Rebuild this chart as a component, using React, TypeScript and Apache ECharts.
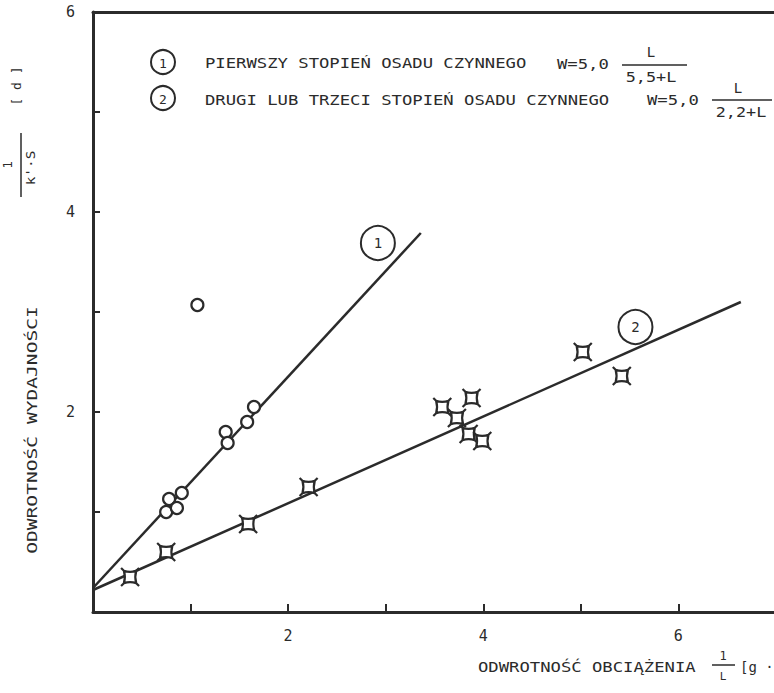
import React, { useEffect, useRef } from "react";
import * as echarts from "echarts";

// Series 1: first stage activated sludge (open circles)
const s1X = [0.75, 0.78, 0.86, 0.91, 1.07, 1.36, 1.38, 1.58, 1.65];
const s1Y = [1.0, 1.13, 1.04, 1.19, 3.07, 1.8, 1.69, 1.9, 2.05];
// Series 2: second or third stage (crossed squares)
const s2X = [0.38, 0.75, 1.59, 2.21, 3.58, 3.73, 3.88, 3.85, 3.99, 5.02, 5.42];
const s2Y = [0.35, 0.6, 0.88, 1.25, 2.05, 1.94, 2.14, 1.78, 1.71, 2.6, 2.36];
// Fitted lines (start, end)
const line1X = [0, 3.36];
const line1Y = [0.24, 3.79];
const line2X = [0, 6.64];
const line2Y = [0.22, 3.1];
// Line tags
const tagX = [2.92, 5.56];
const tagY = [3.69, 2.85];
const tagText = ["1", "2"];
// Axis tick labels shown
const xTickLabels = [2, 4, 6];
const yTickLabels = [2, 4, 6];

const INK = "#2b2b2b";
const FONT = "DejaVu Sans Mono";
const starPath =
  "path://M4.5 4.5 Q11 6.5 17.5 4.5 Q15.5 11 17.5 17.5 Q11 15.5 4.5 17.5 Q6.5 11 4.5 4.5 Z M4.5 4.5 L1.5 1.5 M17.5 4.5 L20.5 1.5 M17.5 17.5 L20.5 20.5 M4.5 17.5 L1.5 20.5";

function txt(text: string, x: number, y: number, opts: any = {}) {
  return {
    type: "text",
    x,
    y,
    rotation: opts.rotation || 0,
    scaleX: opts.scaleX || 1,
    style: {
      text,
      fill: INK,
      fontFamily: FONT,
      fontSize: opts.fontSize || 14,
      align: opts.align || "left",
      verticalAlign: "middle",
    },
  };
}

export default function App() {
  const ref = useRef<HTMLDivElement>(null);
  useEffect(() => {
    if (!ref.current) return;
    const chart = echarts.init(ref.current, undefined, { renderer: "svg" });
    const S = 1.23;
    const option: any = {
      animation: false,
      backgroundColor: "#ffffff",
      grid: { left: 93, right: 0, top: 12, bottom: 81 },
      xAxis: [
        {
          type: "value",
          min: 0,
          max: 6.98,
          interval: 1,
          splitLine: { show: false },
          axisLine: { show: true, onZero: false, lineStyle: { color: INK, width: 3 } },
          axisTick: { show: true, inside: true, length: 8, lineStyle: { color: INK, width: 2 } },
          axisLabel: {
            margin: 16,
            color: INK,
            fontFamily: FONT,
            fontSize: 15,
            showMaxLabel: false,
            formatter: (v: number) => (xTickLabels.includes(v) ? String(v) : ""),
          },
        },
        {
          type: "value",
          position: "top",
          min: 0,
          max: 6.98,
          splitLine: { show: false },
          axisLine: { show: true, onZero: false, lineStyle: { color: INK, width: 3 } },
          axisTick: { show: false },
          axisLabel: { show: false },
        },
      ],
      yAxis: {
        type: "value",
        min: 0,
        max: 6,
        interval: 1,
        splitLine: { show: false },
        axisLine: { show: true, onZero: false, lineStyle: { color: INK, width: 3 } },
        axisTick: { show: true, inside: true, length: 7, lineStyle: { color: INK, width: 2 } },
        axisLabel: {
          margin: 18,
          color: INK,
          fontFamily: FONT,
          fontSize: 15,
          formatter: (v: number) => (yTickLabels.includes(v) ? String(v) : ""),
        },
      },
      series: [
        {
          type: "line",
          data: line1X.map((x, i) => [x, line1Y[i]]),
          showSymbol: false,
          symbol: "none",
          lineStyle: { color: INK, width: 2.5 },
          z: 2,
        },
        {
          type: "line",
          data: line2X.map((x, i) => [x, line2Y[i]]),
          showSymbol: false,
          symbol: "none",
          lineStyle: { color: INK, width: 2.5 },
          z: 2,
        },
        {
          type: "scatter",
          data: s1X.map((x, i) => [x, s1Y[i]]),
          symbol: "circle",
          symbolSize: 12,
          itemStyle: { color: "#ffffff", borderColor: INK, borderWidth: 2.2, opacity: 1 },
          z: 5,
        },
        {
          type: "scatter",
          data: s2X.map((x, i) => [x, s2Y[i]]),
          symbol: starPath,
          symbolSize: 18,
          itemStyle: { color: "#ffffff", borderColor: INK, borderWidth: 2.2, opacity: 1 },
          z: 5,
        },
        {
          type: "scatter",
          data: tagX.map((x, i) => [x, tagY[i]]),
          symbol: "circle",
          symbolSize: 34,
          itemStyle: { color: "rgba(255,255,255,0)", borderColor: INK, borderWidth: 2, opacity: 1 },
          label: {
            show: true,
            position: "inside",
            color: INK,
            fontFamily: FONT,
            fontSize: 14,
            formatter: (p: any) => tagText[p.dataIndex],
          },
          z: 4,
        },
      ],
      graphic: [
        { type: "circle", shape: { cx: 163, cy: 62, r: 12 }, style: { fill: "none", stroke: INK, lineWidth: 2 } },
        txt("1", 163, 63, { fontSize: 13, align: "center" }),
        { type: "circle", shape: { cx: 163, cy: 98, r: 12 }, style: { fill: "none", stroke: INK, lineWidth: 2 } },
        txt("2", 163, 99, { fontSize: 13, align: "center" }),
        txt("PIERWSZY STOPIEŃ OSADU CZYNNEGO", 205, 63, { scaleX: S }),
        txt("DRUGI LUB TRZECI STOPIEŃ OSADU CZYNNEGO", 205, 100, { scaleX: S }),
        txt("W=5,0", 557, 64, { scaleX: S }),
        txt("L", 651, 52, { align: "center" }),
        { type: "line", shape: { x1: 622, y1: 65, x2: 687, y2: 65 }, style: { stroke: INK, lineWidth: 1.5 } },
        txt("5,5+L", 651, 77, { align: "center", scaleX: 1.2 }),
        txt("W=5,0", 647, 100, { scaleX: S }),
        txt("L", 738, 88, { align: "center" }),
        { type: "line", shape: { x1: 712, y1: 100, x2: 772, y2: 100 }, style: { stroke: INK, lineWidth: 1.5 } },
        txt("2,2+L", 741, 112, { align: "center", scaleX: 1.2 }),
        txt("ODWROTNOŚĆ OBCIĄŻENIA", 478, 667, { scaleX: S }),
        txt("1", 723, 656, { align: "center", fontSize: 12 }),
        { type: "line", shape: { x1: 712, y1: 665, x2: 735, y2: 665 }, style: { stroke: INK, lineWidth: 1.5 } },
        txt("L", 723, 676, { align: "center", fontSize: 11 }),
        txt("[g ·", 740, 667, {}),
        txt("ODWROTNOŚĆ WYDAJNOŚCI", 32, 430, { align: "center", rotation: Math.PI / 2, scaleX: 1.4 }),
        txt("1", 8, 165, { align: "center", rotation: Math.PI / 2, fontSize: 12 }),
        { type: "line", shape: { x1: 21, y1: 133, x2: 21, y2: 197 }, style: { stroke: INK, lineWidth: 1.5 } },
        txt("k'·S", 31, 168, { align: "center", rotation: Math.PI / 2, fontSize: 12, scaleX: 1.2 }),
        txt("[ d ]", 16, 86, { align: "center", rotation: Math.PI / 2, fontSize: 13 }),
      ],
    };
    chart.setOption(option);
    return () => chart.dispose();
  }, []);
  return <div ref={ref} style={{ width: 774, height: 693, position: "absolute", left: 0, top: 0 }} />;
}
